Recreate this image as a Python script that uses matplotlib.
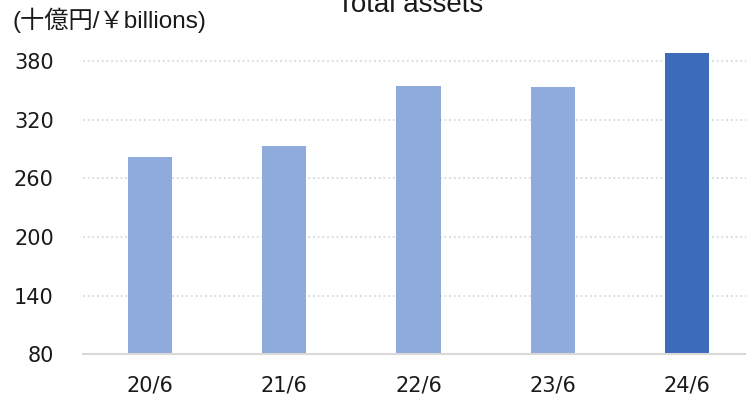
import matplotlib.pyplot as plt

periods = ["20/6", "21/6", "22/6", "23/6", "24/6"]
total_assets = [282, 293, 355, 354, 388]
y_ticks = [80, 140, 200, 260, 320, 380]

LIGHT = "#8FAADC"
DARK = "#3D6BBC"
GRID = "#D9D9D9"

plt.rcParams["font.family"] = ["DejaVu Sans"]

fig = plt.figure(figsize=(7.46, 4.0), dpi=100)
ax = fig.add_axes([83 / 746, 1 - 354.3 / 400, 671 / 746, 312.6 / 400])

colors = [LIGHT] * (len(periods) - 1) + [DARK]
ax.bar(range(len(periods)), total_assets, width=0.33, color=colors, zorder=3)

ax.set_xlim(-0.5, len(periods) - 0.5)
ax.set_ylim(80, 400)
ax.set_yticks(y_ticks)
ax.set_xticks(range(len(periods)))
ax.set_xticklabels(periods)

ax.grid(axis="y", color=GRID, linestyle=(0, (1, 1.6)), linewidth=1.3, zorder=0)
for side in ["top", "right", "left"]:
    ax.spines[side].set_visible(False)
ax.spines["bottom"].set_color(GRID)
ax.spines["bottom"].set_linewidth(1.5)
ax.spines["bottom"].set_zorder(4)

ax.tick_params(axis="y", length=0, pad=21, labelsize=15, labelcolor="#1a1a1a")
ax.tick_params(axis="x", length=0, pad=15, labelsize=15, labelcolor="#1a1a1a")

fig.text(410 / 746, 1 - 12 / 400, "Total assets", ha="center", va="baseline",
         fontsize=20, family=["Liberation Sans", "DejaVu Sans"], color="#1a1a1a")
fig.text(12 / 746, 1 - 20 / 400, "(十億円/￥billions)", ha="left", va="center",
         fontsize=17.5, family=["Liberation Sans", "Noto Sans CJK JP"], color="#1a1a1a")

fig.savefig("out.png", dpi=100)
